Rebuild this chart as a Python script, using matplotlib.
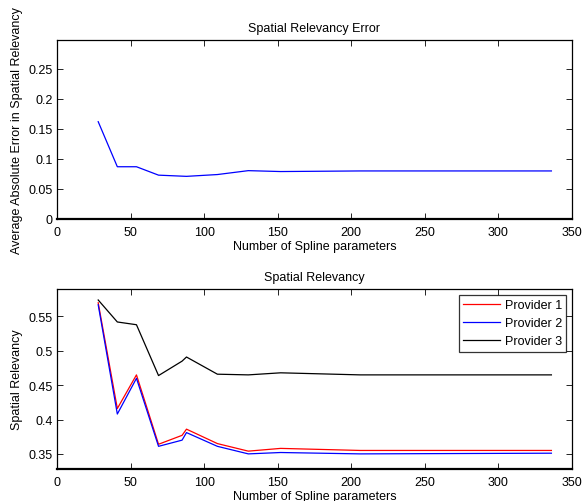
import numpy as np
import matplotlib.pyplot as plt

plt.rcParams['font.family'] = ['Liberation Sans', 'DejaVu Sans']
plt.rcParams['font.size'] = 9

# number of spline parameters
n_err = [28, 41, 54, 69, 88, 109, 130, 152, 206, 336]
err = [0.162, 0.087, 0.087, 0.073, 0.071, 0.074, 0.0805, 0.079, 0.080, 0.080]

n_rel = [28, 41, 54, 69, 85, 88, 109, 130, 152, 206, 336]
prov1 = [0.570, 0.416, 0.465, 0.364, 0.377, 0.386, 0.365, 0.354, 0.358, 0.355, 0.355]
prov2 = [0.567, 0.408, 0.460, 0.361, 0.370, 0.381, 0.361, 0.350, 0.352, 0.350, 0.351]
prov3 = [0.574, 0.542, 0.538, 0.464, 0.485, 0.491, 0.466, 0.465, 0.468, 0.465, 0.465]

fig = plt.figure(figsize=(5.83, 5.02), dpi=100)
ax1 = fig.add_axes([57/583, 1-220/502, 515/583, 179/502])
ax2 = fig.add_axes([57/583, 1-470/502, 515/583, 180/502])

def style(ax):
    ax.tick_params(direction='in', top=True, right=True, length=4, width=0.6, pad=3)
    ax.tick_params(axis='x', pad=5)
    for s in ax.spines.values():
        s.set_linewidth(0.9)
    ax.spines['bottom'].set_linewidth(1.6)
    ax.set_xlim(0, 350)
    ax.set_xticks(np.arange(0, 351, 50))
    ax.set_xlabel('Number of Spline parameters', labelpad=1.5)

ax1.plot(n_err, err, color='blue', lw=0.9)
ax1.set_ylim(0, 0.298)
ax1.set_yticks([0, 0.05, 0.1, 0.15, 0.2, 0.25])
ax1.set_yticklabels(['0', '0.05', '0.1', '0.15', '0.2', '0.25'])
ax1.set_ylabel('Average Absolute Error in Spatial Relevancy', labelpad=4)
ax1.set_title('Spatial Relevancy Error', fontsize=9, pad=6.5)
style(ax1)

ax2.plot(n_rel, prov1, color='red', lw=0.9, label='Provider 1')
ax2.plot(n_rel, prov2, color='blue', lw=0.9, label='Provider 2')
ax2.plot(n_rel, prov3, color='black', lw=0.9, label='Provider 3')
ax2.set_ylim(0.328, 0.59)
ax2.set_yticks([0.35, 0.4, 0.45, 0.5, 0.55])
ax2.set_yticklabels(['0.35', '0.4', '0.45', '0.5', '0.55'])
ax2.set_ylabel('Spatial Relevancy', labelpad=4)
ax2.set_title('Spatial Relevancy', fontsize=9, pad=6.5)
style(ax2)
leg = ax2.legend(loc='upper right', fancybox=False, edgecolor='black',
                 borderaxespad=0.45, handlelength=3.0, labelspacing=0.5,
                 borderpad=0.35, handletextpad=0.35)
leg.get_frame().set_linewidth(0.9)

fig.savefig('out.png', dpi=100)
